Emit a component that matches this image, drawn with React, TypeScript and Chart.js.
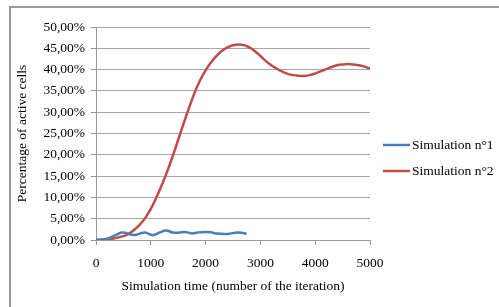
import React, { useEffect, useRef } from "react";
import { Chart, registerables } from "chart.js";

Chart.register(...registerables);

const sim1X = [0, 100, 200, 300, 400, 470, 550, 680, 800, 895, 970, 1047, 1150, 1280, 1400, 1500, 1626, 1750, 1850, 1990, 2100, 2200, 2350, 2450, 2570, 2680, 2750];
const sim1Y = [0, 0.1, 0.3, 0.8, 1.4, 1.77, 1.65, 1.15, 1.5, 1.77, 1.4, 1.15, 1.7, 2.23, 1.75, 1.7, 1.9, 1.55, 1.75, 1.9, 1.8, 1.5, 1.4, 1.5, 1.75, 1.65, 1.45];

const sim2X = [0, 250, 500, 600, 700, 800, 900, 1000, 1100, 1200, 1300, 1400, 1500, 1600, 1700, 1800, 1900, 2000, 2100, 2200, 2300, 2400, 2500, 2600, 2700, 2800, 2900, 3000, 3100, 3200, 3300, 3400, 3500, 3600, 3700, 3800, 3900, 4000, 4100, 4200, 4300, 4400, 4500, 4600, 4700, 4800, 4900, 5000];
const sim2Y = [0, 0.2, 0.9, 1.5, 2.4, 3.6, 5.2, 7.3, 9.9, 12.9, 16.1, 19.7, 23.5, 27.4, 31.1, 34.6, 37.5, 39.8, 41.7, 43.2, 44.4, 45.2, 45.7, 45.9, 45.75, 45.2, 44.3, 43.2, 42.0, 41.0, 40.2, 39.5, 39.0, 38.7, 38.55, 38.5, 38.7, 39.1, 39.6, 40.1, 40.6, 41.0, 41.2, 41.3, 41.2, 41.0, 40.7, 40.2];

const seriesLabels = ["Simulation n°1", "Simulation n°2"];
const seriesColors = ["#4A7EBB", "#BE4B48"];
const xTitle = "Simulation time (number of the iteration)";
const yTitle = "Percentage of active cells";

const FONT = "'Liberation Serif', 'Times New Roman', serif";
const FS = 13.5;

const legendPlugin = {
  id: "customLegend",
  afterDraw(chart: any) {
    const ctx = chart.ctx;
    ctx.save();
    chart.data.datasets.forEach((ds: any, i: number) => {
      const y = 145 + i * 26;
      ctx.strokeStyle = ds.borderColor;
      ctx.lineWidth = 2.5;
      ctx.beginPath();
      ctx.moveTo(383, y);
      ctx.lineTo(410, y);
      ctx.stroke();
      ctx.fillStyle = "#000";
      ctx.font = `${FS}px ${FONT}`;
      ctx.textBaseline = "middle";
      ctx.textAlign = "left";
      ctx.fillText(ds.label, 412, y);
    });
    ctx.restore();
  },
};

export default function App() {
  const ref = useRef<HTMLCanvasElement>(null);
  useEffect(() => {
    if (!ref.current) return;
    const chart = new Chart(ref.current, {
      type: "line",
      data: {
        datasets: [
          {
            label: seriesLabels[0],
            data: sim1X.map((x, i) => ({ x, y: sim1Y[i] })),
            borderColor: seriesColors[0],
            backgroundColor: seriesColors[0],
            borderWidth: 2.5,
            pointRadius: 0,
            tension: 0.4,
          },
          {
            label: seriesLabels[1],
            data: sim2X.map((x, i) => ({ x, y: sim2Y[i] })),
            borderColor: seriesColors[1],
            backgroundColor: seriesColors[1],
            borderWidth: 2.5,
            pointRadius: 0,
            tension: 0.4,
          },
        ],
      },
      options: {
        animation: false,
        responsive: false,
        devicePixelRatio: 1,
        layout: { padding: { left: 10, top: 27, right: 129, bottom: 0 } },
        plugins: { legend: { display: false }, tooltip: { enabled: false } },
        scales: {
          x: {
            type: "linear",
            min: 0,
            max: 5000,
            ticks: {
              stepSize: 1000,
              color: "#000",
              font: { family: FONT, size: FS },
              padding: 10,
              maxRotation: 0,
              callback: (v: any) => String(v),
            },
            grid: { color: "rgba(0,0,0,0)", tickColor: "#999", tickLength: 5, drawOnChartArea: false },
            border: { color: "#999", width: 1 },
            title: { display: true, text: xTitle, color: "#000", font: { family: FONT, size: FS }, padding: { top: 4, bottom: 12 } },
            afterFit: (s: any) => { s.height = 67; },
          },
          y: {
            min: 0,
            max: 50,
            ticks: {
              stepSize: 5,
              color: "#000",
              font: { family: FONT, size: FS },
              padding: 6,
              callback: (v: any) => Number(v).toFixed(2).replace(".", ",") + "%",
            },
            grid: { color: "#a6a6a6", tickColor: "#999", tickLength: 5 },
            border: { color: "#999", width: 1 },
            title: { display: true, text: yTitle, color: "#000", font: { family: FONT, size: FS }, padding: { top: 4, bottom: 4 } },
            afterFit: (s: any) => { s.width = 86; },
          },
        },
      } as any,
      plugins: [legendPlugin],
    });
    return () => chart.destroy();
  }, []);
  return (
    <div style={{ position: "absolute", left: 0, top: 0, width: 499, height: 307, overflow: "hidden", background: "#fff" }}>
      <div style={{ position: "absolute", left: 9, top: 6, width: 600, height: 400, borderLeft: "2px solid #9a9a9a", borderTop: "2px solid #9a9a9a" }} />
      <canvas ref={ref} width={499} height={307} style={{ position: "absolute", left: 0, top: 0, width: 499, height: 307 }} />
    </div>
  );
}
